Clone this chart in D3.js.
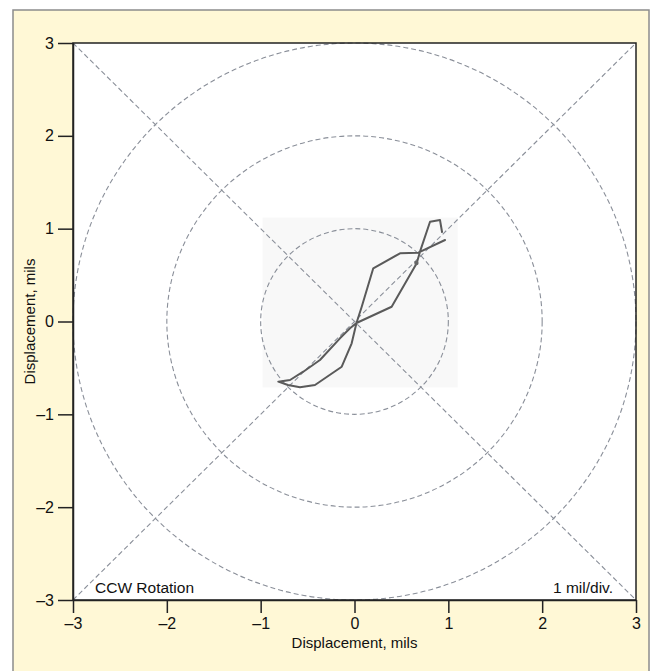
<!DOCTYPE html>
<html>
<head>
<meta charset="utf-8">
<script src="https://cdn.jsdelivr.net/npm/d3@7"></script>
<style>
  html, body { margin: 0; padding: 0; background: #ffffff; }
  svg { display: block; }
  text { font-family: "Liberation Sans", Arial, Helvetica, sans-serif; fill: #111; }
</style>
</head>
<body>
<script>
// ---- data ----
const tickValues = [-3, -2, -1, 0, 1, 2, 3];
const tickLabels = ["\u20133", "\u20132", "\u20131", "0", "1", "2", "3"];
const circleRadii = [1, 2, 3];
// orbit trace (mils)
const orbitX = [0.933, 0.911, 0.805, 0.698, 0.663, 0.396, 0.021, -0.048, -0.155, -0.368, -0.546, -0.687, -0.812, -0.709, -0.581, -0.421, -0.136, -0.030, 0.021, 0.077, 0.200, 0.485, 0.680, 0.965];
const orbitY = [0.964, 1.093, 1.075, 0.752, 0.627, 0.159, -0.016, -0.073, -0.181, -0.415, -0.541, -0.630, -0.648, -0.684, -0.709, -0.684, -0.487, -0.235, -0.016, 0.159, 0.573, 0.735, 0.741, 0.878];
const keyphasor = [0.66, 0.63];
// extent of the inset trace image background (mils)
const insetX = [-0.98, 1.1];
const insetY = [-0.71, 1.12];
const xTitle = "Displacement, mils";
const yTitle = "Displacement, mils";
const noteLeft = "CCW Rotation";
const noteRight = "1 mil/div.";

// ---- layout ----
const W = 652, H = 671;
const L = 73, R = 636, T = 43, B = 600;

const svg = d3.select("body").append("svg").attr("width", W).attr("height", H);

// panel background
svg.append("rect").attr("x", 13).attr("y", 10).attr("width", 636).attr("height", 670)
  .attr("fill", "#fff8d6").attr("stroke", "#8c8c8c").attr("stroke-width", 1.5);

const x = d3.scaleLinear().domain([-3, 3]).range([L, R]);
const y = d3.scaleLinear().domain([-3, 3]).range([B, T]);

svg.append("rect").attr("x", L).attr("y", T).attr("width", R - L).attr("height", B - T).attr("fill", "#ffffff");

const g = svg.append("g");
// inset background
g.append("rect")
  .attr("x", x(insetX[0])).attr("y", y(insetY[1]))
  .attr("width", x(insetX[1]) - x(insetX[0])).attr("height", y(insetY[0]) - y(insetY[1]))
  .attr("fill", "#f8f8f8");

const dashCol = "#8a8f99";
g.selectAll("ellipse.ring").data(circleRadii).enter().append("ellipse")
  .attr("cx", x(0)).attr("cy", y(0))
  .attr("rx", d => x(d) - x(0)).attr("ry", d => y(0) - y(d))
  .attr("fill", "none").attr("stroke", dashCol).attr("stroke-width", 1.1)
  .attr("stroke-dasharray", "5,3");

// diagonals
const diag = [[[-3, 3], [3, -3]], [[-3, -3], [3, 3]]];
g.selectAll("line.diag").data(diag).enter().append("line")
  .attr("x1", d => x(d[0][0])).attr("y1", d => y(d[0][1]))
  .attr("x2", d => x(d[1][0])).attr("y2", d => y(d[1][1]))
  .attr("stroke", dashCol).attr("stroke-width", 1.1).attr("stroke-dasharray", "5,3");

// orbit trace
const pts = orbitX.map((v, i) => [v, orbitY[i]]);
g.append("path").datum(pts)
  .attr("d", d3.line().x(d => x(d[0])).y(d => y(d[1])))
  .attr("fill", "none").attr("stroke", "#5a5a5a").attr("stroke-width", 2)
  .attr("stroke-linejoin", "round").attr("stroke-linecap", "round");
g.append("circle").attr("cx", x(keyphasor[0])).attr("cy", y(keyphasor[1])).attr("r", 2.2).attr("fill", "#666");

// frame
svg.append("rect").attr("x", L).attr("y", T).attr("width", R - L).attr("height", B - T)
  .attr("fill", "none").attr("stroke", "#222").attr("stroke-width", 1.5);

// axes
const xAxis = d3.axisBottom(x).tickValues(tickValues).tickFormat((d, i) => tickLabels[i])
  .tickSize(13).tickSizeOuter(0).tickPadding(5);
const yAxis = d3.axisLeft(y).tickValues(tickValues).tickFormat((d, i) => tickLabels[i])
  .tickSize(15).tickSizeOuter(0).tickPadding(4);

const gx = svg.append("g").attr("transform", `translate(0,${B})`).call(xAxis);
const gy = svg.append("g").attr("transform", `translate(${L},0)`).call(yAxis);
[gx, gy].forEach(a => {
  a.select(".domain").attr("stroke", "#222").attr("stroke-width", 1.5);
  a.selectAll(".tick line").attr("stroke", "#222").attr("stroke-width", 1.5);
  a.selectAll(".tick text").attr("font-size", 16).attr("fill", "#111")
    .attr("font-family", "Liberation Sans, Arial, sans-serif");
});

// titles
svg.append("text").attr("x", x(0)).attr("y", 648).attr("text-anchor", "middle")
  .attr("font-size", 15).text(xTitle);
svg.append("text").attr("transform", `translate(35,${y(0)}) rotate(-90)`).attr("text-anchor", "middle")
  .attr("font-size", 15).text(yTitle);

// notes
svg.append("text").attr("x", 95).attr("y", 593).attr("font-size", 15.5).text(noteLeft);
svg.append("text").attr("x", 613).attr("y", 593).attr("text-anchor", "end").attr("font-size", 15.5).text(noteRight);
</script>
</body>
</html>
